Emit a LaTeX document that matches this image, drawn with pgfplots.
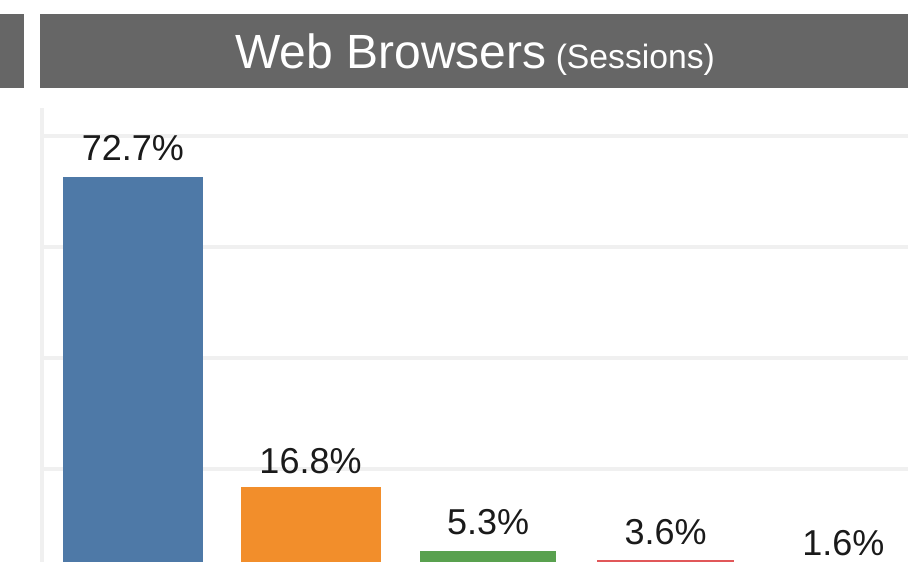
\documentclass[border=0pt]{standalone}
\usepackage{fontspec}
\setmainfont{Liberation Sans}
\usepackage{pgfplots}
\pgfplotsset{compat=1.18}
\definecolor{hdr}{HTML}{666666}
\definecolor{gridc}{HTML}{F0F0F0}
\definecolor{lbl}{HTML}{1A1A1A}
\definecolor{cA}{HTML}{4E79A7}
\definecolor{cB}{HTML}{F28E2B}
\definecolor{cC}{HTML}{59A14F}
\definecolor{cD}{HTML}{E15759}
\definecolor{cE}{HTML}{76B7B2}
\begin{document}
\begin{tikzpicture}[x=1pt,y=1pt]
\useasboundingbox (0,0) rectangle (908,562);
\clip (0,0) rectangle (908,562);
\fill[hdr] (0,474) rectangle (24,548);
\fill[hdr] (40,474) rectangle (908,548);
\node[anchor=base west, inner sep=0, text=white, font=\fontsize{48}{50}\selectfont] at (235,493) {Web Browsers{\fontsize{33.7}{36}\selectfont\ (Sessions)}};
\begin{axis}[
  at={(42pt,-18pt)}, anchor=south west,
  scale only axis, width=888pt, height=472pt,
  xmin=-0.512, xmax=4.488, ymin=0, ymax=85.05,
  axis x line=none, axis y line=left,
  axis line style={-, line width=4pt, color=gridc},
  ytick={20,40,60,80}, yticklabels={}, major tick length=0,
  ymajorgrids, grid style={line width=4pt, color=gridc},
  xtick=\empty,
  ybar, bar shift=0pt,
  nodes near coords, point meta=explicit symbolic,
  every node near coord/.append style={anchor=base, yshift=16pt, font=\fontsize{36}{38}\selectfont, text=lbl, inner sep=0pt},
]
\addplot[fill=cA, draw=none, bar width=140pt] coordinates {(0,72.7) [72.7\%]};
\addplot[fill=cB, draw=none, bar width=140pt, every node near coord/.append style={yshift=-3pt}] coordinates {(1,16.8) [16.8\%]};
\addplot[fill=cC, draw=none, bar width=136pt] coordinates {(2,5.3) [5.3\%]};
\addplot[fill=cD, draw=none, bar width=137pt] coordinates {(3,3.6) [3.6\%]};
\addplot[fill=cE, draw=none, bar width=137pt] coordinates {(4,1.6) [1.6\%]};
\end{axis}
\end{tikzpicture}
\end{document}
